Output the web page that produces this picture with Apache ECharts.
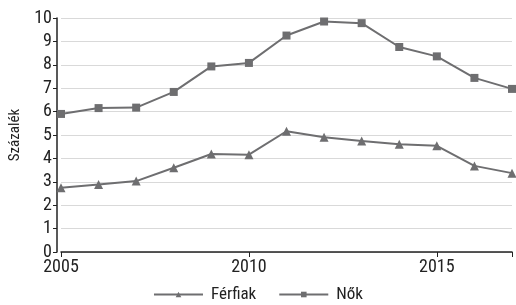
<!DOCTYPE html>
<html>
<head>
    <meta charset="utf-8">
    <title>Férfiak és nők</title>
    <style>
        html, body { margin: 0; padding: 0; background: #fff; }
        #chart { width: 516px; height: 305px; }
    </style>
</head>
<body>
<div id="chart"></div>
<script src="https://cdn.jsdelivr.net/npm/echarts@6/dist/echarts.min.js"></script>
<script>
    // évek és értékek (százalék)
    var years = [2005, 2006, 2007, 2008, 2009, 2010, 2011, 2012, 2013, 2014, 2015, 2016, 2017];
    var ferfiak = [2.75, 2.88, 3.03, 3.6, 4.19, 4.16, 5.16, 4.9, 4.74, 4.6, 4.54, 3.68, 3.37];
    var nok = [5.9, 6.15, 6.17, 6.84, 7.93, 8.08, 9.25, 9.85, 9.78, 8.76, 8.36, 7.44, 6.97];
    var seriesNames = ['Férfiak', 'Nők'];

    var font = '"Liberation Sans Narrow", "Roboto Condensed", "DejaVu Sans Condensed", sans-serif';
    var lineColor = '#6e6e70';

    var myChart = echarts.init(document.getElementById('chart'));

    function pairs(vals) {
        return years.map(function (y, i) { return [y, vals[i]]; });
    }

    var option = {
        animation: false,
        textStyle: { fontFamily: font },
        grid: { left: 60, right: 4, top: 18, bottom: 53, containLabel: false },
        legend: {
            bottom: -3,
            left: 'center',
            itemWidth: 49,
            itemHeight: 7,
            itemGap: 22,
            textStyle: { fontFamily: font, fontSize: 17, color: '#222', padding: [0, 0, 0, 3] },
            data: seriesNames
        },
        xAxis: {
            type: 'value',
            min: 2005,
            max: 2017,
            interval: 5,
            splitLine: { show: false },
            axisLine: { lineStyle: { color: '#222', width: 1.5 } },
            axisTick: { show: true, length: 5, lineStyle: { color: '#222' } },
            axisLabel: {
                color: '#222', fontSize: 18, fontFamily: font, margin: 6,
                formatter: function (v) { return v === 2017 ? '' : String(v); }
            }
        },
        yAxis: {
            type: 'value',
            min: 0,
            max: 10,
            interval: 1,
            offset: 4,
            name: 'Százalék',
            nameLocation: 'middle',
            nameGap: 34,
            nameTextStyle: { color: '#222', fontSize: 15, fontFamily: font },
            axisLine: { show: true, lineStyle: { color: '#222', width: 1.5 } },
            axisTick: { show: true, length: 4, lineStyle: { color: '#222' } },
            axisLabel: { color: '#222', fontSize: 18, fontFamily: font, margin: 5 },
            splitLine: { lineStyle: { color: '#d9d9d9', width: 1.2 } }
        },
        series: [
            {
                name: seriesNames[0],
                type: 'line',
                data: pairs(ferfiak),
                symbol: 'triangle',
                symbolSize: 9,
                lineStyle: { color: lineColor, width: 2 },
                itemStyle: { color: lineColor }
            },
            {
                name: seriesNames[1],
                type: 'line',
                data: pairs(nok),
                symbol: 'rect',
                symbolSize: 8,
                lineStyle: { color: lineColor, width: 2 },
                itemStyle: { color: lineColor }
            }
        ]
    };

    myChart.setOption(option);
</script>
</body>
</html>
